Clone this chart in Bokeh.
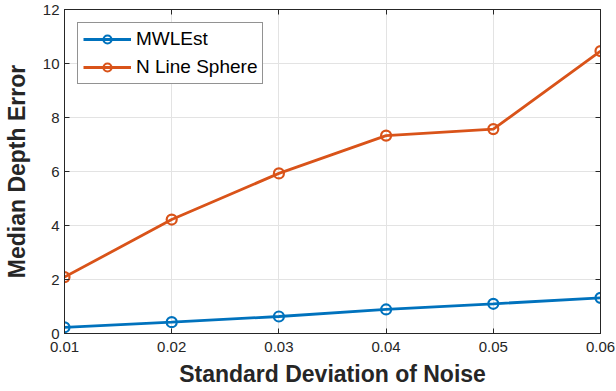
from bokeh.plotting import figure
from bokeh.models import LinearAxis, Legend, LegendItem, Range1d, FixedTicker
from bokeh.embed import file_html
from bokeh.resources import INLINE

noise = [0.01, 0.02, 0.03, 0.04, 0.05, 0.06]
mwlest = [0.23, 0.42, 0.63, 0.89, 1.10, 1.32]
nline = [2.09, 4.22, 5.93, 7.33, 7.57, 10.46]
x_ticks = [0.01, 0.02, 0.03, 0.04, 0.05, 0.06]
y_ticks = [0, 2, 4, 6, 8, 10, 12]

BLUE = "#0072BD"
ORANGE = "#D95319"
AX = "#262626"
FONT = "Liberation Sans"

p = figure(width=616, height=391, output_backend="svg", toolbar_location=None,
           x_range=Range1d(0.01, 0.06), y_range=Range1d(0, 12),
           min_border_left=62, min_border_right=16, min_border_top=9, min_border_bottom=58)
p.styles = {"position": "absolute", "top": "0px", "left": "0px"}

l1 = p.line(noise, mwlest, line_color=BLUE, line_width=2.8)
s1 = p.scatter(noise, mwlest, marker="circle", size=10, fill_color=None, line_color=BLUE, line_width=2.2)
l2 = p.line(noise, nline, line_color=ORANGE, line_width=2.8)
s2 = p.scatter(noise, nline, marker="circle", size=10, fill_color=None, line_color=ORANGE, line_width=2.2)

for ax in (p.xaxis[0], p.yaxis[0]):
    ax.major_tick_in = 5
    ax.major_tick_out = 0
    ax.minor_tick_line_color = None
    ax.axis_line_color = AX
    ax.major_tick_line_color = AX
    ax.major_label_text_color = AX
    ax.major_label_text_font = FONT
    ax.major_label_text_font_size = "15px"
    ax.axis_label_text_font = FONT
    ax.axis_label_text_font_size = "23px"
    ax.axis_label_text_font_style = "bold"
    ax.axis_label_text_color = AX

p.xaxis[0].ticker = FixedTicker(ticks=x_ticks)
p.yaxis[0].ticker = FixedTicker(ticks=y_ticks)
p.xaxis[0].major_label_overrides = {t: f"{t:.2f}" for t in x_ticks}
p.xaxis[0].axis_label = "Standard Deviation of Noise"
p.yaxis[0].axis_label = "Median Depth Error"
p.xaxis[0].major_label_standoff = 8
p.xaxis[0].axis_label_standoff = 6
p.yaxis[0].major_label_standoff = 5
p.yaxis[0].axis_label_standoff = 10

top = LinearAxis(ticker=FixedTicker(ticks=x_ticks), major_label_text_color=None,
                 major_label_standoff=0, major_tick_in=5, major_tick_out=0,
                 minor_tick_line_color=None, axis_line_color=AX, major_tick_line_color=AX)
right = LinearAxis(ticker=FixedTicker(ticks=y_ticks), major_label_text_color=None,
                   major_label_standoff=0, major_tick_in=5, major_tick_out=0,
                   minor_tick_line_color=None, axis_line_color=AX, major_tick_line_color=AX)
p.add_layout(top, "above")
p.add_layout(right, "right")

p.xgrid.ticker = FixedTicker(ticks=x_ticks)
p.ygrid.ticker = FixedTicker(ticks=y_ticks)
p.grid.grid_line_color = "#e3e3e3"
p.grid.grid_line_width = 1
p.outline_line_color = AX

legend = Legend(items=[LegendItem(label="MWLEst", renderers=[l1, s1]),
                       LegendItem(label="N Line Sphere", renderers=[l2, s2])],
                location="top_left")
legend.margin = 13
legend.padding = 5
legend.spacing = 6
legend.glyph_width = 48
legend.glyph_height = 20
legend.label_height = 20
legend.label_standoff = 5
legend.label_text_font = FONT
legend.label_text_font_size = "19px"
legend.label_text_color = "#000000"
legend.border_line_color = AX
legend.border_line_width = 1
legend.background_fill_color = "white"
legend.background_fill_alpha = 1
p.add_layout(legend, "center")

open("out.html", "w").write(file_html(p, INLINE))
